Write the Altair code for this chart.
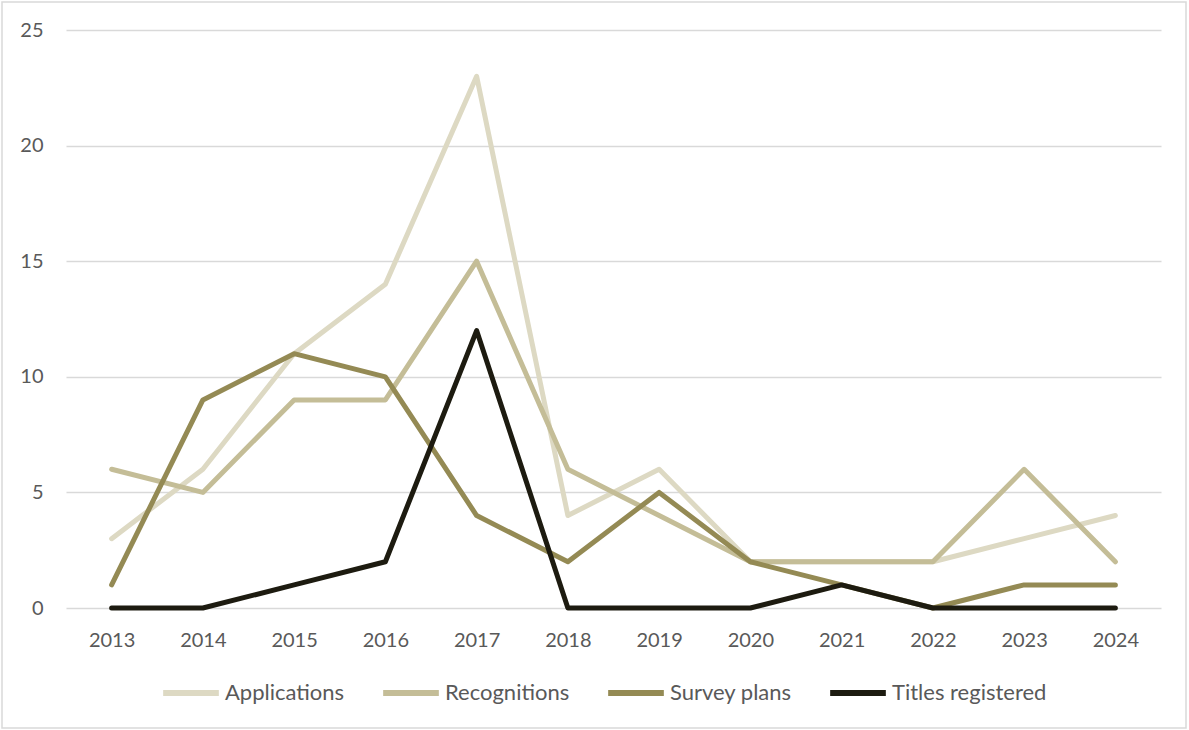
import altair as alt
import pandas as pd

years = ["2013", "2014", "2015", "2016", "2017", "2018", "2019", "2020", "2021", "2022", "2023", "2024"]
applications = [3, 6, 11, 14, 23, 4, 6, 2, 2, 2, 3, 4]
recognitions = [6, 5, 9, 9, 15, 6, 4, 2, 2, 2, 6, 2]
survey_plans = [1, 9, 11, 10, 4, 2, 5, 2, 1, 0, 1, 1]
titles = [0, 0, 1, 2, 12, 0, 0, 0, 1, 0, 0, 0]

series_names = ["Applications", "Recognitions", "Survey plans", "Titles registered"]
series_values = [applications, recognitions, survey_plans, titles]
colors = ["#DDD9C3", "#C4BD97", "#948A54", "#1D1B10"]

rows = []
for si, (name, vals) in enumerate(zip(series_names, series_values)):
    for y, v in zip(years, vals):
        rows.append({"Year": y, "Value": v, "Series": name, "order": si})
df = pd.DataFrame(rows)

FONT = "Lato"
FS = 20

border = alt.Chart(pd.DataFrame({"a": [0]})).mark_rect(
    fill="transparent", stroke="#D9D9D9", strokeWidth=1.5
).encode(
    x=alt.value(-64), x2=alt.value(1120), y=alt.value(-28), y2=alt.value(698)
)

lines = alt.Chart(df).mark_line(
    strokeWidth=5, strokeCap="round", strokeJoin="round"
).encode(
    x=alt.X("Year:O", sort=years,
            scale=alt.Scale(type="point", padding=0.5),
            axis=alt.Axis(title=None, labelAngle=0, ticks=False, domain=False,
                          labelFontSize=FS, labelColor="#595959", labelFont=FONT,
                          labelPadding=22, grid=False)),
    y=alt.Y("Value:Q", scale=alt.Scale(domain=[0, 25], nice=False),
            axis=alt.Axis(title=None, values=[0, 5, 10, 15, 20, 25], ticks=False,
                          domain=False, labelFontSize=FS, labelColor="#595959",
                          labelFont=FONT, labelPadding=23, gridColor="#D9D9D9",
                          gridWidth=1.5)),
    color=alt.Color("Series:N", sort=series_names,
                    scale=alt.Scale(domain=series_names, range=colors),
                    legend=alt.Legend(title=None, orient="none", direction="horizontal",
                                      legendX=94, legendY=632, symbolType="stroke",
                                      symbolSize=3100, symbolStrokeWidth=6,
                                      labelFontSize=22, labelColor="#595959",
                                      labelFont=FONT, columnPadding=26,
                                      symbolOffset=0, labelOffset=3, padding=0)),
    order=alt.Order("order:Q"),
    detail="Series:N",
)

chart = alt.layer(lines, border).properties(
    width=1095, height=578,
    autosize=alt.AutoSizeParams(type="none"),
    padding={"left": 66, "top": 30, "right": 28, "bottom": 122},
    view=alt.ViewBackground(stroke="transparent", strokeWidth=0),
).configure_view(strokeOpacity=0, strokeWidth=0).configure_axisX(
    grid=False, domain=False
).configure(background="white")

chart.save("out.html", embed_options={"renderer": "svg", "actions": False})
